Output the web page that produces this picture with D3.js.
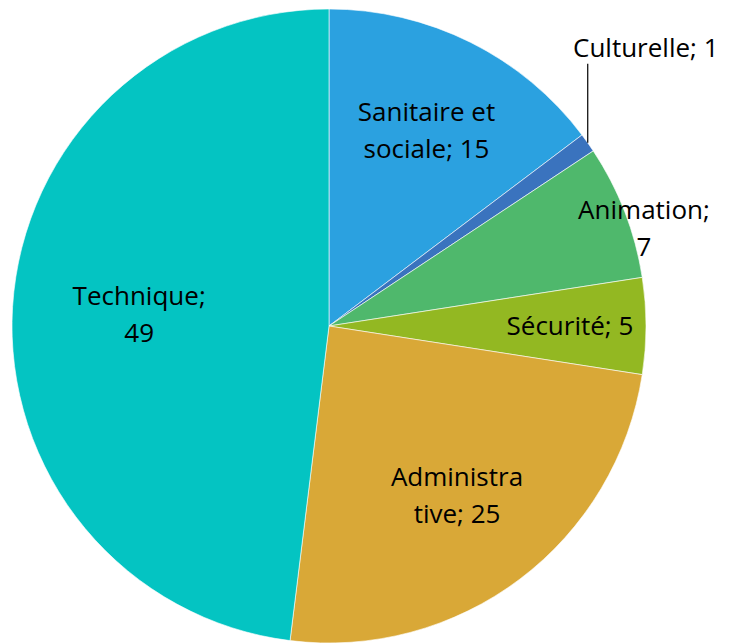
<!DOCTYPE html>
<html lang="fr">
  <head>
    <meta charset="UTF-8" />
    <title>Répartition par filière</title>
    <style>
      body {
        margin: 0;
        background: #fff;
        overflow: hidden;
      }
      .label {
        font-family: "Open Sans", "Lato", sans-serif;
        font-size: 26px;
        fill: #000;
      }
    </style>
  </head>
  <body>
    <svg id="chart" width="729" height="643"></svg>
    <script src="https://d3js.org/d3.v7.min.js"></script>
    <script>
      const categories = ["Sanitaire et sociale", "Culturelle", "Animation", "Sécurité", "Administrative", "Technique"];
      const values = [15, 1, 7, 5, 25, 49];
      const colors = ["#2ba1e0", "#3a73be", "#4fb86c", "#93b822", "#d9a837", "#04c4c2"];
      // label text as it wraps in the picture
      const labelLines = [
        ["Sanitaire et", "sociale; 15"],
        ["Culturelle; 1"],
        ["Animation;", "7"],
        ["Sécurité; 5"],
        ["Administra", "tive; 25"],
        ["Technique;", "49"]
      ];
      // where each label sits: fraction of the radius and shift of the angle (degrees)
      const labelRadius = [0.69, 1.33, 1.04, 0.76, 0.67, 0.6];
      const labelTurn = [0, -6, 4.0, 0, 0, 0];

      const width = 729, height = 643;
      const cx = 329, cy = 326, radius = 317;

      const svg = d3.select("#chart");
      const g = svg.append("g").attr("transform", `translate(${cx},${cy})`);

      const data = categories.map((c, i) => ({ name: c, value: values[i], i }));
      const pie = d3.pie().value(d => d.value).sort(null);
      const arcs = pie(data);
      const arc = d3.arc().innerRadius(0).outerRadius(radius);

      g.selectAll("path.slice")
        .data(arcs)
        .enter().append("path")
        .attr("class", "slice")
        .attr("d", arc)
        .attr("fill", d => colors[d.data.i])
        .attr("stroke", "#fff")
        .attr("stroke-width", 0.6);

      function labelPoint(d) {
        const a = (d.startAngle + d.endAngle) / 2 + labelTurn[d.data.i] * Math.PI / 180;
        const r = radius * labelRadius[d.data.i];
        return [r * Math.sin(a), -r * Math.cos(a)];
      }

      const lineHeight = 37;
      const labels = g.selectAll("text.label")
        .data(arcs)
        .enter().append("text")
        .attr("class", "label")
        .attr("text-anchor", "middle")
        .attr("transform", d => {
          const p = labelPoint(d);
          return `translate(${p[0]},${p[1]})`;
        });

      labels.selectAll("tspan")
        .data(d => labelLines[d.data.i].map((t, k, all) => ({ t, k, n: all.length })))
        .enter().append("tspan")
        .attr("x", 0)
        .attr("y", d => (d.k - (d.n - 1) / 2) * lineHeight + 9)
        .text(d => d.t);

      // leader line for the small slice
      const small = arcs[1];
      const mid = (small.startAngle + small.endAngle) / 2;
      const edge = [radius * Math.sin(mid), -radius * Math.cos(mid)];
      const lp = labelPoint(small);
      g.append("line")
        .attr("x1", edge[0])
        .attr("y1", edge[1])
        .attr("x2", edge[0])
        .attr("y2", lp[1] + 16)
        .attr("stroke", "#000")
        .attr("stroke-width", 1.2);
    </script>
  </body>
</html>
